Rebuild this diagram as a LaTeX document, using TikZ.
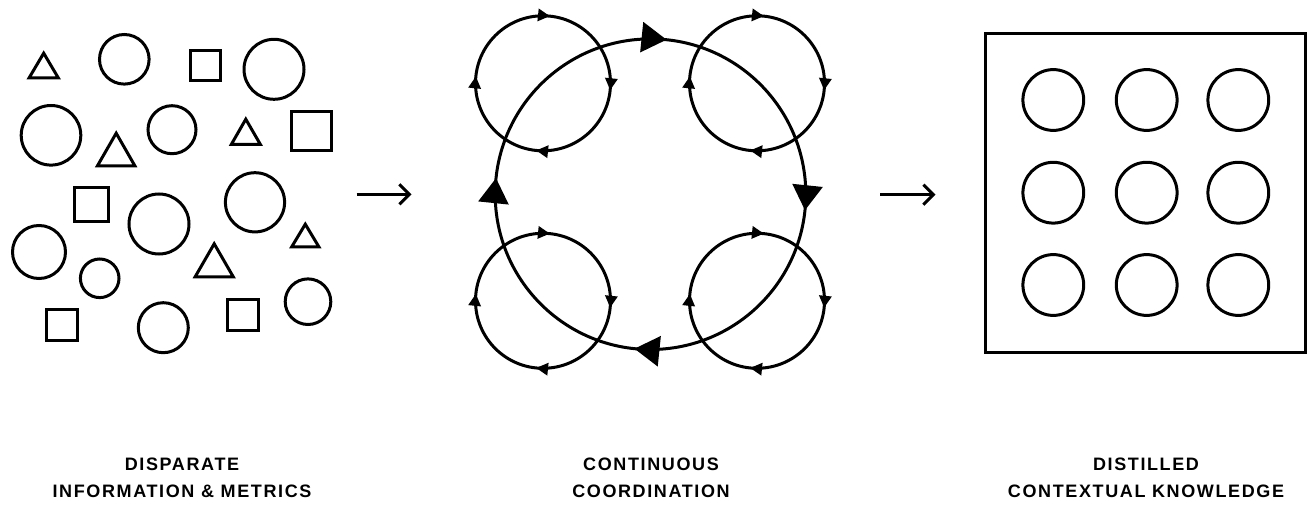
\documentclass[tikz,border=0pt]{standalone}
\usepackage{fontspec}
\newfontfamily\capfont{Liberation Sans}[LetterSpace=9]
\usetikzlibrary{arrows.meta,decorations.markings}

\tikzset{
  outline/.style={line width=3pt},
  ring/.style={outline, postaction={decorate}, decoration={markings,
      mark=at position 0.0165 with {\arrow{#1}},
      mark=at position 0.2665 with {\arrow{#1}},
      mark=at position 0.5165 with {\arrow{#1}},
      mark=at position 0.7665 with {\arrow{#1}}}},
  flow/.style={outline, -{Straight Barb[length=10pt,width=20pt]}},
  heading/.style={font=\capfont\bfseries\fontsize{18}{27}\selectfont,
      align=center, inner sep=0pt, anchor=north},
}

\begin{document}
\begin{tikzpicture}[x=1pt,y=1pt]
  \useasboundingbox (0,0) rectangle (1309,504);

  % scattered shapes
  \draw[outline] (43.7,450.8) -- (58.3,426.1) -- (29.1,426.1) -- cycle;
  \draw[outline] (116.2,370.8) -- (134.9,338.1) -- (97.4,338.1) -- cycle;
  \draw[outline] (245.8,384.8) -- (260.3,359.7) -- (231.4,359.7) -- cycle;
  \draw[outline] (305.3,279.8) -- (318.9,257.1) -- (291.7,257.1) -- cycle;
  \draw[outline] (214.2,260.2) -- (233.3,227.1) -- (195.1,227.1) -- cycle;
  \draw[outline] (124.3,444.7) circle (24.8);
  \draw[outline] (274,434.7) circle (30);
  \draw[outline] (51,368.7) circle (29.8);
  \draw[outline] (172,374.3) circle (24);
  \draw[outline] (159,280) circle (30);
  \draw[outline] (255,301.7) circle (29.6);
  \draw[outline] (39,252) circle (26.5);
  \draw[outline] (99.7,225.7) circle (19.3);
  \draw[outline] (163.3,176.3) circle (25);
  \draw[outline] (308,202.3) circle (22.8);
  \draw[outline] (190.1,423.1) rectangle (220.9,453.6);
  \draw[outline] (291.4,353.1) rectangle (331.3,392.6);
  \draw[outline] (74.4,282.7) rectangle (108.3,316.6);
  \draw[outline] (46.7,163.7) rectangle (77.9,194.9);
  \draw[outline] (227.7,173.7) rectangle (258.6,204.3);

  % cycles, all running clockwise
  \draw[ring={Triangle[length=25pt,width=30pt]}] (650.5,465.1) arc[start angle=90, end angle=-270, radius=155.3];
  \draw[ring={Triangle[length=12pt,width=12pt]}] (543,488.2) arc[start angle=90, end angle=-270, radius=67.5];
  \draw[ring={Triangle[length=12pt,width=12pt]}] (757,488.2) arc[start angle=90, end angle=-270, radius=67.5];
  \draw[ring={Triangle[length=12pt,width=12pt]}] (543,270.7) arc[start angle=90, end angle=-270, radius=67.5];
  \draw[ring={Triangle[length=12pt,width=12pt]}] (757,270.7) arc[start angle=90, end angle=-270, radius=67.5];

  % ordered grid in a frame
  \draw[outline] (985.4,151.4) rectangle (1305.3,470.6);
  \draw[outline] (1053.3,404) circle (30.4);
  \draw[outline] (1146.7,404) circle (30.4);
  \draw[outline] (1238.3,404) circle (30.4);
  \draw[outline] (1053.3,311.3) circle (30.4);
  \draw[outline] (1146.7,311.3) circle (30.4);
  \draw[outline] (1238.3,311.3) circle (30.4);
  \draw[outline] (1053.3,219) circle (30.4);
  \draw[outline] (1146.7,219) circle (30.4);
  \draw[outline] (1238.3,219) circle (30.4);

  % arrows between the stages
  \coordinate (scatterOut) at (356.7,309.7);
  \coordinate (cycleIn) at (411.5,309.7);
  \coordinate (cycleOut) at (880,309.3);
  \coordinate (gridIn) at (935.5,309.3);
  \draw[flow] (scatterOut) -- (cycleIn);
  \draw[flow] (cycleOut) -- (gridIn);

  % captions
  \node[heading] (disparate) at (182,46.5) {DISPARATE\\INFORMATION \& METRICS};
  \node[heading] (continuous) at (651,46.5) {CONTINUOUS\\COORDINATION};
  \node[heading] (distilled) at (1146,46.5) {DISTILLED\\CONTEXTUAL KNOWLEDGE};
\end{tikzpicture}
\end{document}
